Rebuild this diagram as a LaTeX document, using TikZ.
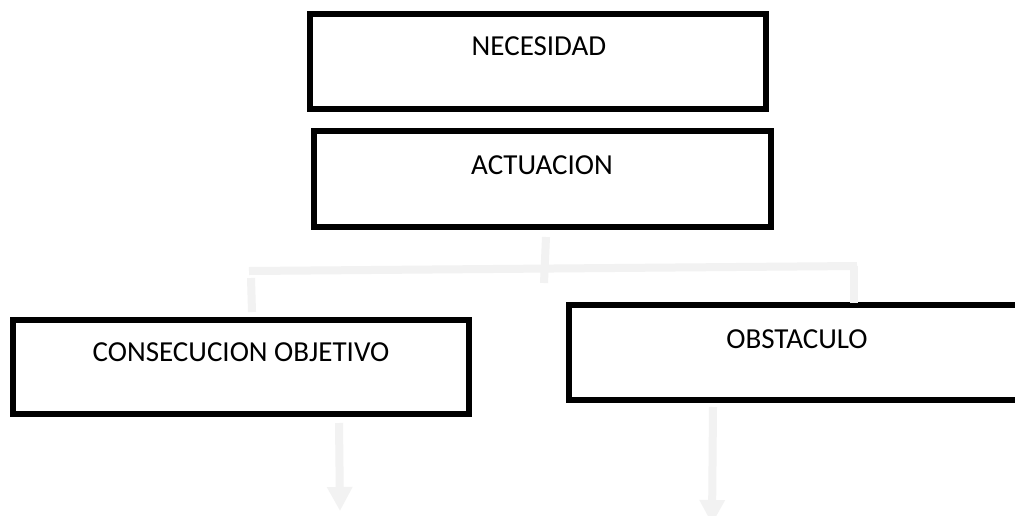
\documentclass[tikz,border=0pt]{standalone}
\usepackage{fontspec}
\setmainfont{Carlito}
\usetikzlibrary{arrows.meta}
\definecolor{barcol}{HTML}{F2F2F2}
\begin{document}
\begin{tikzpicture}[x=1pt,y=-1pt,
  box/.style={draw=black,line width=6pt,rectangle,inner sep=0pt,fill=white},
  lbl/.style={font=\fontsize{29}{33}\selectfont,inner sep=0pt,anchor=center},
  bar/.style={draw=barcol,line width=8pt,line cap=butt},
  downarrow/.style={draw=barcol,line width=8pt,-{Triangle[width=24pt,length=24pt]},barcol}]
\clip (0,0) rectangle (1015,515);
\fill[white] (0,0) rectangle (1015,515);
% boxes
\node[box,minimum width=456pt,minimum height=95pt] (nec) at (538,61.5) {};
\node[box,minimum width=457pt,minimum height=96pt] (act) at (542.5,179) {};
\node[box,minimum width=456pt,minimum height=94pt] (cons) at (241,367) {};
\node[box,minimum width=471pt,minimum height=95pt] (obs) at (804.5,352.5) {};
% texts
\node[lbl] (tnec) at (539,46) {NECESIDAD};
\node[lbl] (tact) at (542,165) {ACTUACION};
\node[lbl] (tcons) at (241,352) {CONSECUCION OBJETIVO};
\node[lbl] (tobs) at (797,339) {OBSTACULO};
% connector coordinates
\coordinate (mtop) at (546,237);
\coordinate (mbot) at (544,283);
\coordinate (hl) at (249,271);
\coordinate (hr) at (857,266);
\coordinate (ltop) at (251,278);
\coordinate (lbot) at (252,312);
\coordinate (rtop) at (854,266);
\coordinate (rbot) at (854,303);
\coordinate (a1s) at (339,423);
\coordinate (a1e) at (340,511);
\coordinate (a2s) at (713,407);
\coordinate (a2e) at (712,524);
\draw[bar] (mtop) -- (mbot);
\draw[bar] (hl) -- (hr);
\draw[bar] (ltop) -- (lbot);
\draw[bar] (rtop) -- (rbot);
\draw[downarrow] (a1s) -- (a1e);
\draw[downarrow] (a2s) -- (a2e);
\end{tikzpicture}
\end{document}
